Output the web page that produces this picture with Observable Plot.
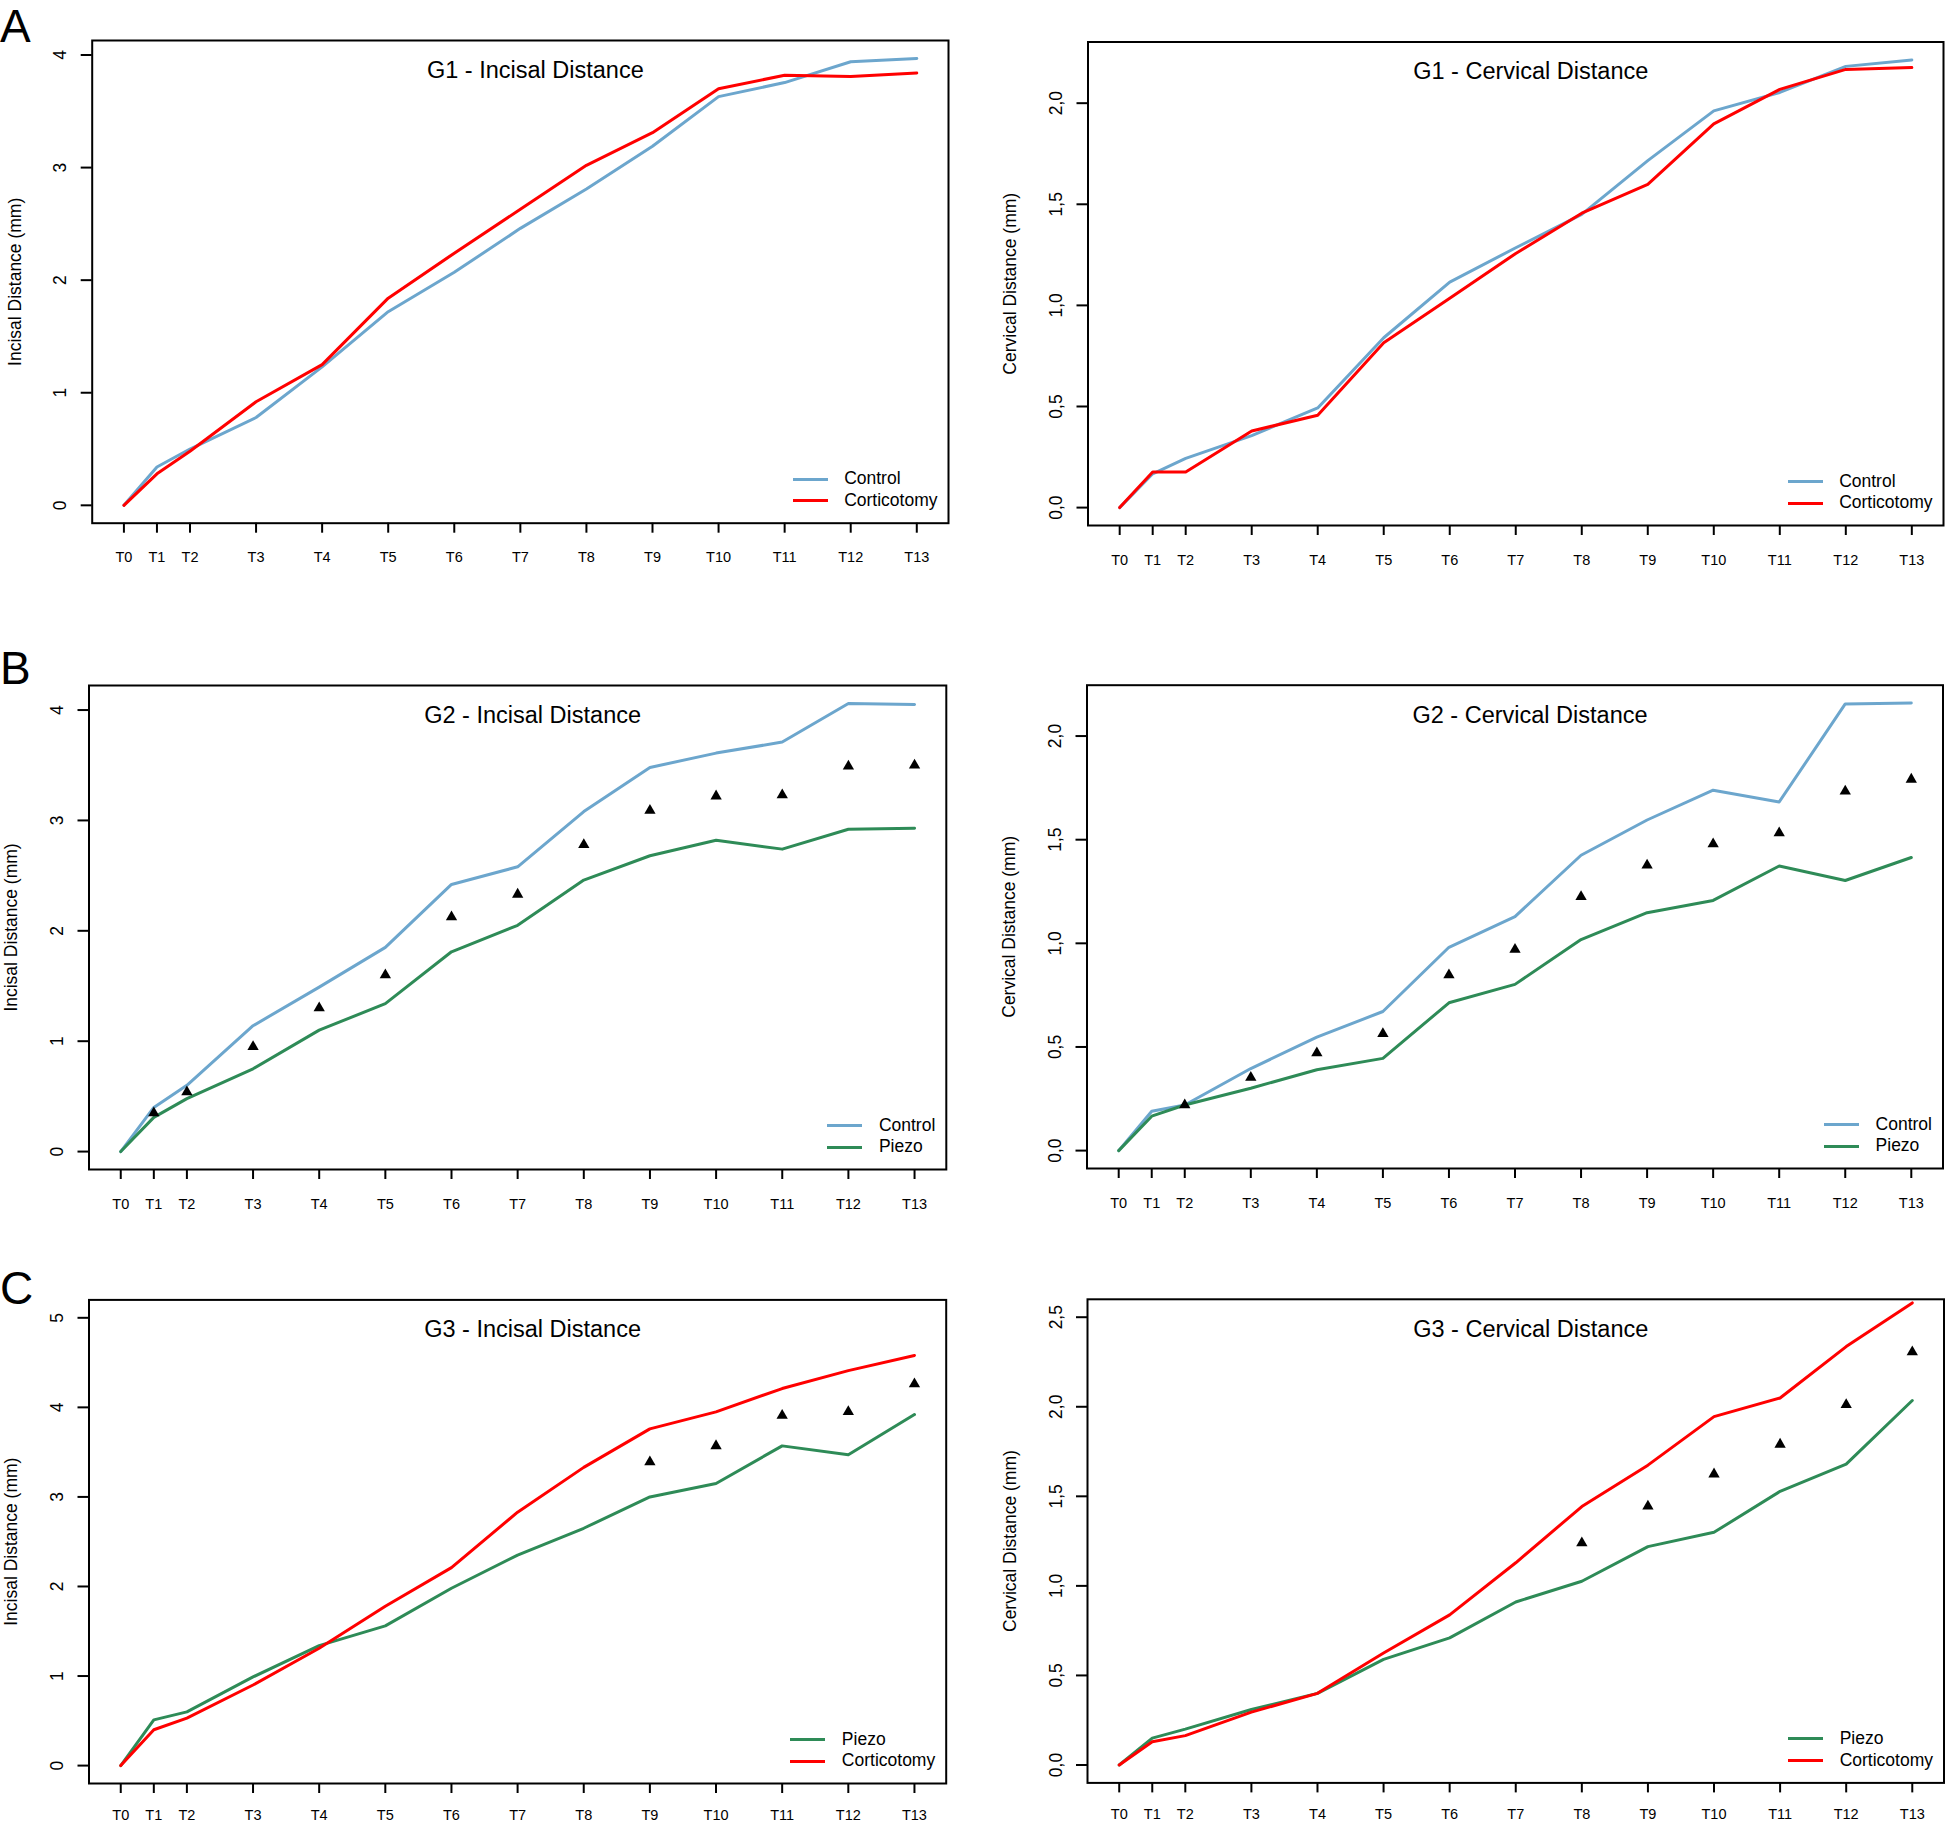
<!DOCTYPE html>
<html>
<head>
<meta charset="utf-8">
<script src="https://cdn.jsdelivr.net/npm/d3@7"></script>
<script src="https://cdn.jsdelivr.net/npm/@observablehq/plot@0.6"></script>
<style>
  html, body { margin: 0; padding: 0; background: #fff; }
  #fig { position: relative; width: 1945px; height: 1822px; overflow: hidden; background: #fff;
         font-family: "Liberation Sans", Arial, Helvetica, sans-serif; color: #000; }
  .panel { position: absolute; }
  .letter { position: absolute; font-size: 46px; line-height: 36px; }
  .legend { position: absolute; font-size: 17.5px; }
  .legend .row { display: flex; align-items: center; height: 21.5px; line-height: 21.5px; white-space: nowrap; }
  .legend .sw { display: inline-block; width: 35px; height: 3px; margin-right: 16.5px; }
</style>
</head>
<body>
<div id="fig"></div>
<script>
// ---------- data ----------
const timeLabels = ["T0","T1","T2","T3","T4","T5","T6","T7","T8","T9","T10","T11","T12","T13"];
const timePos    = [0, 0.5, 1, 2, 3, 4, 5, 6, 7, 8, 9, 10, 11, 12];

const seriesColors = { Control: "#6CA6CD", Corticotomy: "#FF0000", Piezo: "#2E8B57" };

// G1
const g1IncisalControl   = [0, 0.34, 0.50, 0.78, 1.23, 1.72, 2.07, 2.46, 2.81, 3.19, 3.63, 3.755, 3.94, 3.97];
const g1IncisalCortico   = [0, 0.28, 0.48, 0.92, 1.25, 1.84, 2.24, 2.63, 3.02, 3.31, 3.70, 3.82, 3.81, 3.84];
const g1CervicalControl  = [0, 0.167, 0.243, 0.356, 0.493, 0.84, 1.115, 1.285, 1.45, 1.716, 1.962, 2.053, 2.182, 2.214];
const g1CervicalCortico  = [0, 0.176, 0.176, 0.379, 0.457, 0.815, 1.035, 1.257, 1.456, 1.598, 1.898, 2.068, 2.167, 2.176];
// G2
const g2IncisalControl   = [0, 0.40, 0.60, 1.14, 1.49, 1.85, 2.42, 2.58, 3.08, 3.48, 3.61, 3.71, 4.06, 4.05];
const g2IncisalPiezo     = [0, 0.31, 0.48, 0.75, 1.10, 1.34, 1.81, 2.05, 2.46, 2.68, 2.82, 2.74, 2.92, 2.93];
const g2IncisalMarks     = [null, 0.35, 0.54, 0.95, 1.30, 1.60, 2.125, 2.33, 2.78, 3.09, 3.22, 3.23, 3.49, 3.50];
const g2CervicalControl  = [0, 0.19, 0.22, 0.396, 0.547, 0.671, 0.981, 1.129, 1.425, 1.595, 1.739, 1.682, 2.155, 2.159];
const g2CervicalPiezo    = [0, 0.166, 0.22, 0.301, 0.39, 0.445, 0.713, 0.802, 1.018, 1.148, 1.207, 1.373, 1.303, 1.414];
const g2CervicalMarks    = [null, null, 0.22, 0.353, 0.471, 0.564, 0.847, 0.970, 1.225, 1.377, 1.479, 1.532, 1.734, 1.791];
// G3
const g3IncisalPiezo     = [0, 0.51, 0.60, 0.99, 1.34, 1.56, 1.98, 2.35, 2.65, 3.00, 3.15, 3.57, 3.47, 3.92];
const g3IncisalCortico   = [0, 0.40, 0.53, 0.90, 1.31, 1.78, 2.21, 2.83, 3.33, 3.76, 3.95, 4.21, 4.41, 4.58];
const g3IncisalMarks     = [null, null, null, null, null, null, null, null, null, 3.39, 3.57, 3.91, 3.95, 4.26];
const g3CervicalPiezo    = [0, 0.15, 0.20, 0.31, 0.40, 0.59, 0.71, 0.91, 1.026, 1.219, 1.299, 1.528, 1.68, 2.035];
const g3CervicalCortico  = [0, 0.13, 0.164, 0.295, 0.40, 0.625, 0.838, 1.129, 1.443, 1.674, 1.945, 2.049, 2.336, 2.58];
const g3CervicalMarks    = [null, null, null, null, null, null, null, null, 1.239, 1.445, 1.624, 1.79, 2.011, 2.306];

const incisalTicks  = [0, 1, 2, 3, 4];
const incisalTicks5 = [0, 1, 2, 3, 4, 5];
const cervicalTicks = [0, 0.5, 1, 1.5, 2];
const cervicalTicks25 = [0, 0.5, 1, 1.5, 2, 2.5];

// ---------- layout ----------
const panels = [
  { letter: "A", letterTop: 7.9, title: "G1 - Incisal Distance", ylabel: "Incisal Distance (mm)",
    ylim: [0, d3.max([...g1IncisalControl, ...g1IncisalCortico])], yticks: incisalTicks, comma: false,
    series: [["Control", g1IncisalControl], ["Corticotomy", g1IncisalCortico]], marks: null,
    svg: [0, 0, 960, 620], frame: [91.7, 948, 40, 522.7], xPadding: 19 },
  { title: "G1 - Cervical Distance", ylabel: "Cervical Distance (mm)",
    ylim: [0, d3.max([...g1CervicalControl, ...g1CervicalCortico])], yticks: cervicalTicks, comma: true,
    series: [["Control", g1CervicalControl], ["Corticotomy", g1CervicalCortico]], marks: null,
    svg: [960, 0, 985, 620], frame: [1087.5, 1943, 41.5, 525], xPadding: 19 },
  { letter: "B", letterTop: 650.1, title: "G2 - Incisal Distance", ylabel: "Incisal Distance (mm)",
    ylim: [0, d3.max([...g2IncisalControl, ...g2IncisalPiezo])], yticks: incisalTicks, comma: false,
    series: [["Control", g2IncisalControl], ["Piezo", g2IncisalPiezo]], marks: g2IncisalMarks,
    svg: [0, 620, 960, 620], frame: [88.5, 945.8, 685, 1169], xPadding: 19 },
  { title: "G2 - Cervical Distance", ylabel: "Cervical Distance (mm)",
    ylim: [0, d3.max([...g2CervicalControl, ...g2CervicalPiezo])], yticks: cervicalTicks, comma: true,
    series: [["Control", g2CervicalControl], ["Piezo", g2CervicalPiezo]], marks: g2CervicalMarks,
    svg: [960, 620, 985, 620], frame: [1086.5, 1942.5, 684.7, 1168], xPadding: 19 },
  { letter: "C", letterTop: 1270.1, title: "G3 - Incisal Distance", ylabel: "Incisal Distance (mm)",
    ylim: [0, 5], yticks: incisalTicks5, comma: false,
    series: [["Piezo", g3IncisalPiezo], ["Corticotomy", g3IncisalCortico]], marks: g3IncisalMarks,
    svg: [0, 1240, 960, 582], frame: [88.5, 945.7, 1299.4, 1783], xPadding: 16 },
  { title: "G3 - Cervical Distance", ylabel: "Cervical Distance (mm)",
    ylim: [0, 2.5], yticks: cervicalTicks25, comma: true,
    series: [["Piezo", g3CervicalPiezo], ["Corticotomy", g3CervicalCortico]], marks: g3CervicalMarks,
    svg: [960, 1240, 985, 582], frame: [1087, 1943.5, 1298.8, 1782.4], xPadding: 16 }
];

const fig = document.getElementById("fig");
const FONT = '"Liberation Sans", Arial, Helvetica, sans-serif';
const xExt = d3.extent(timePos);
const xPad = (xExt[1] - xExt[0]) * 0.04;

for (const p of panels) {
  const [sl, st, sw, sh] = p.svg;
  const [fl, fr, ft, fb] = p.frame;
  const yPad = (p.ylim[1] - p.ylim[0]) * 0.04;

  const lineData = [];
  for (const [name, vals] of p.series) {
    vals.forEach((v, i) => lineData.push({ t: timePos[i], v, series: name }));
  }
  const markData = p.marks ? p.marks.map((v, i) => ({ t: timePos[i], v })).filter(d => d.v != null) : [];

  const fmt = p.comma ? (d => d.toFixed(1).replace(".", ",")) : (d => String(d));

  const chart = Plot.plot({
    width: sw, height: sh,
    marginLeft: fl - sl, marginRight: sl + sw - fr,
    marginTop: ft - st, marginBottom: st + sh - fb,
    style: { fontFamily: FONT, background: "transparent", color: "#000", overflow: "visible" },
    x: { domain: [xExt[0] - xPad, xExt[1] + xPad] },
    y: { domain: [p.ylim[0] - yPad, p.ylim[1] + yPad] },
    color: { domain: p.series.map(s => s[0]), range: p.series.map(s => seriesColors[s[0]]) },
    marks: [
      Plot.axisX({ ticks: timePos, tickFormat: d => timeLabels[timePos.indexOf(d)],
                   tickSize: 10, tickPadding: p.xPadding, fontSize: 14.5, strokeWidth: 2, label: null }),
      Plot.axisY({ ticks: p.yticks, tickFormat: fmt, tickSize: 11, tickPadding: 15, tickRotate: -90,
                   fontSize: 17.5, strokeWidth: 2, label: p.ylabel, labelAnchor: "center",
                   labelOffset: 84, labelArrow: "none" }),
      Plot.line(lineData, { x: "t", y: "v", z: "series", stroke: "series", strokeWidth: 3 }),
      Plot.dot(markData, { x: "t", y: "v", symbol: "triangle", fill: "#000", r: 4.2 }),
      Plot.text([p.title], { frameAnchor: "top", lineAnchor: "bottom", dy: 37.3, dx: 15, fontSize: 23.5 }),
      Plot.frame({ stroke: "#000", strokeWidth: 2 })
    ]
  });
  const wrap = document.createElement("div");
  wrap.className = "panel";
  wrap.style.left = sl + "px";
  wrap.style.top = st + "px";
  wrap.appendChild(chart);
  fig.appendChild(wrap);

  // legend (bottom-right inside the frame)
  const leg = document.createElement("div");
  leg.className = "legend";
  leg.style.right = (1945 - (fr - 10.5)) + "px";
  leg.style.top = (fb - 43.5 - 10.75) + "px";
  for (const [name] of p.series) {
    const row = document.createElement("div");
    row.className = "row";
    const swEl = document.createElement("span");
    swEl.className = "sw";
    swEl.style.background = seriesColors[name];
    const tx = document.createElement("span");
    tx.textContent = name;
    row.appendChild(swEl);
    row.appendChild(tx);
    leg.appendChild(row);
  }
  fig.appendChild(leg);

  if (p.letter) {
    const L = document.createElement("div");
    L.className = "letter";
    L.textContent = p.letter;
    L.style.left = "0px";
    L.style.top = p.letterTop + "px";
    fig.appendChild(L);
  }
}
</script>
</body>
</html>
